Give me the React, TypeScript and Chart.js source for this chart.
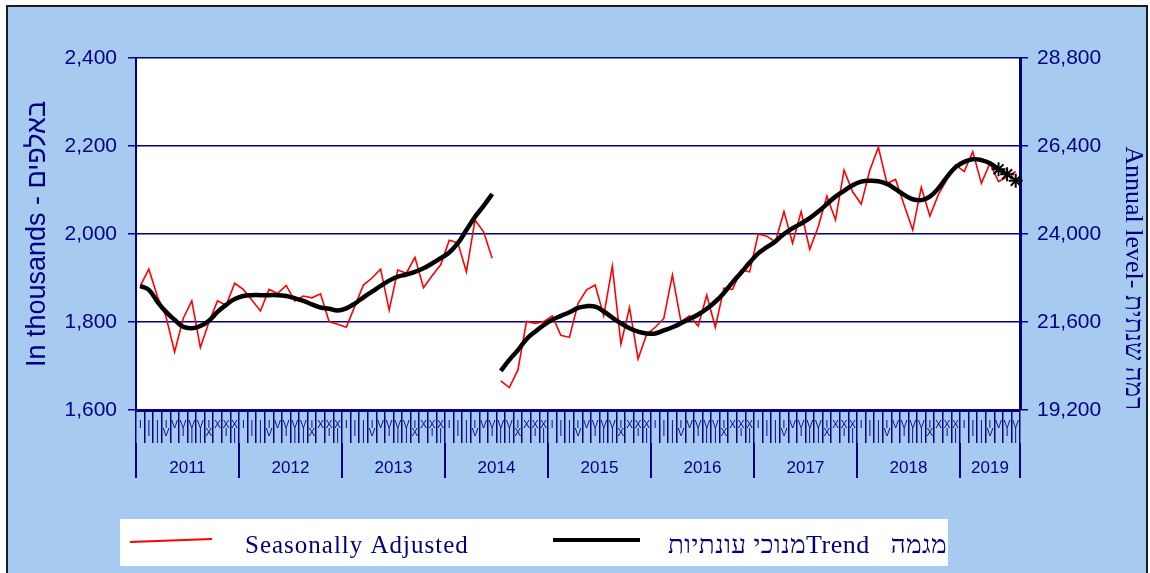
import React, { useEffect, useRef } from 'react';
import { Chart, registerables } from 'chart.js';

Chart.register(...registerables);

const years = ['2011', '2012', '2013', '2014', '2015', '2016', '2017', '2018', '2019'];
const monthsInYear = [12, 12, 12, 12, 12, 12, 12, 12, 7];
const romanMonths = ['I', 'II', 'III', 'IV', 'V', 'VI', 'VII', 'VIII', 'IX', 'X', 'XI', 'XII'];

const leftTickValues = [1600, 1800, 2000, 2200, 2400];
const rightTickValues = [19200, 21600, 24000, 26400, 28800];

// Jan 2011 - Jun 2014 (old series)
const seasonallyAdjustedOld = [
  1882, 1920, 1858, 1812, 1732, 1808, 1848, 1742, 1800, 1848, 1838, 1888,
  1874, 1850, 1825, 1874, 1865, 1883, 1848, 1859, 1855, 1864, 1801, 1795,
  1788, 1836, 1884, 1900, 1920, 1827, 1918, 1911, 1947, 1878, 1905, 1930,
  1986, 1980, 1914, 2032, 2005, 1945,
];
// Jul 2014 - Jul 2019 (new series)
const seasonallyAdjustedNew = [
  1666, 1651, 1691, 1801, 1797, 1801,
  1814, 1770, 1765, 1842, 1873, 1884, 1814, 1927, 1750, 1833, 1716, 1772,
  1788, 1808, 1907, 1801, 1814, 1791, 1861, 1788, 1877, 1874, 1918, 1914,
  2000, 1995, 1982, 2051, 1979, 2051, 1965, 2017, 2086, 2032, 2145, 2096,
  2068, 2145, 2197, 2115, 2124, 2066, 2009, 2106, 2041, 2090, 2124, 2157,
  2142, 2187, 2115, 2161, 2119, 2130, 2142,
];
const trendOld = [
  1882, 1873, 1846, 1823, 1805, 1789, 1786, 1791, 1803, 1823, 1839, 1852,
  1859, 1861, 1861, 1861, 1861, 1859, 1854, 1848, 1840, 1833, 1830, 1826,
  1831, 1842, 1856, 1869, 1882, 1894, 1903, 1908, 1914, 1922, 1933, 1945,
  1958, 1979, 2009, 2039, 2064, 2091,
];
const trendNew = [
  1689, 1714, 1736, 1761, 1778, 1793,
  1805, 1814, 1822, 1832, 1836, 1835, 1824, 1810, 1797, 1786, 1778, 1774,
  1774, 1781, 1788, 1797, 1807, 1817, 1830, 1846, 1866, 1890, 1912, 1935,
  1956, 1970, 1983, 2000, 2013, 2024, 2036, 2051, 2068, 2085, 2098, 2111,
  2119, 2121, 2120, 2114, 2102, 2089, 2079, 2077, 2085, 2104, 2130, 2152,
  2164, 2170, 2168, 2161, 2147, 2136, 2121,
];
const markedTrendCount = 3;

const NAVY = '#000080';
const BG = '#A6CAF0';
const FONT_SANS = "'Liberation Sans', Arial, sans-serif";
const FONT_SERIF = "'Liberation Serif', 'Times New Roman', serif";

const legendLabels = ['Seasonally Adjusted', 'מנוכי עונתיותTrend   מגמה'];
const leftTitle = 'In thousands - באלפים';
const rightTitle = 'Annual level- רמה שנתית';

function buildMonthLabels(): string[][] {
  const out: string[][] = [];
  monthsInYear.forEach((n) => {
    for (let m = 0; m < n; m++) out.push(romanMonths[m].split(''));
  });
  return out;
}

function buildYearTicks() {
  const bounds: number[] = [0];
  const centers: { v: number; label: string }[] = [];
  let acc = 0;
  monthsInYear.forEach((n, i) => {
    centers.push({ v: acc + n / 2, label: years[i] });
    acc += n;
    bounds.push(acc);
  });
  return { bounds, centers, total: acc };
}

const whitePlotPlugin = {
  id: 'whitePlot',
  beforeDraw(chart: any) {
    const { ctx, chartArea } = chart;
    ctx.save();
    ctx.fillStyle = '#ffffff';
    ctx.fillRect(chartArea.left, chartArea.top, chartArea.right - chartArea.left, chartArea.bottom - chartArea.top);
    ctx.restore();
  },
};

const legendPlugin = {
  id: 'customLegend',
  afterDraw(chart: any) {
    const { ctx } = chart;
    ctx.save();
    ctx.fillStyle = '#ffffff';
    ctx.fillRect(112, 512, 828, 47);
    ctx.strokeStyle = '#ff0000';
    ctx.lineWidth = 2;
    ctx.beginPath();
    ctx.moveTo(122, 535);
    ctx.lineTo(204, 532);
    ctx.stroke();
    ctx.strokeStyle = '#000000';
    ctx.lineWidth = 4;
    ctx.beginPath();
    ctx.moveTo(545, 533);
    ctx.lineTo(632, 533);
    ctx.stroke();
    ctx.fillStyle = NAVY;
    ctx.font = `25px ${FONT_SERIF}`;
    ctx.textBaseline = 'middle';
    ctx.textAlign = 'left';
    ctx.direction = 'ltr';
    (ctx as any).letterSpacing = '1px';
    ctx.fillText(legendLabels[0], 237, 539);
    (ctx as any).letterSpacing = '0.5px';
    ctx.font = `26px ${FONT_SERIF}`;
    ctx.fillText(legendLabels[1], 660, 539);
    ctx.restore();
  },
};

export default function App() {
  const ref = useRef<HTMLCanvasElement | null>(null);

  useEffect(() => {
    const canvas = ref.current;
    if (!canvas) return;
    const labels = buildMonthLabels();
    const total = labels.length;
    const oldLen = seasonallyAdjustedOld.length;
    const newLen = total - oldLen;
    const nullsOld = Array(oldLen).fill(null);
    const nullsNew = Array(newLen).fill(null);

    const trendNewLine = trendNew.map((v, i) => (i <= trendNew.length - markedTrendCount ? v : null));
    const trendMarked = [
      ...nullsOld,
      ...trendNew.map((v, i) => (i >= trendNew.length - markedTrendCount ? v : null)),
    ];

    const yt = buildYearTicks();
    const boundarySet = new Set(yt.bounds);
    const yearTickList = [...yt.bounds, ...yt.centers.map((c) => c.v)].sort((a, b) => a - b);
    const yearLabelMap = new Map(yt.centers.map((c) => [c.v, c.label]));

    const chart = new Chart(canvas, {
      type: 'line',
      data: {
        labels,
        datasets: [
          {
            label: 'trendMarked',
            data: trendMarked,
            borderColor: '#000000',
            borderWidth: 1.5,
            pointStyle: 'star',
            pointRadius: 7,
            pointBorderWidth: 2,
            pointBorderColor: '#000000',
            pointBackgroundColor: '#000000',
            xAxisID: 'x',
            yAxisID: 'y',
          },
          {
            label: 'trendOld',
            data: [...trendOld, ...nullsNew],
            borderColor: '#000000',
            borderWidth: 4.5,
            pointRadius: 0,
            tension: 0.4,
            xAxisID: 'x',
            yAxisID: 'y',
          },
          {
            label: 'trendNew',
            data: [...nullsOld, ...trendNewLine],
            borderColor: '#000000',
            borderWidth: 4.5,
            pointRadius: 0,
            tension: 0.4,
            xAxisID: 'x',
            yAxisID: 'y',
          },
          {
            label: 'saOld',
            data: [...seasonallyAdjustedOld, ...nullsNew],
            borderColor: '#ff0000',
            borderWidth: 1.6,
            pointRadius: 0,
            tension: 0,
            xAxisID: 'x',
            yAxisID: 'y',
          },
          {
            label: 'saNew',
            data: [...nullsOld, ...seasonallyAdjustedNew],
            borderColor: '#ff0000',
            borderWidth: 1.6,
            pointRadius: 0,
            tension: 0,
            xAxisID: 'x',
            yAxisID: 'y',
          },
        ],
      },
      options: {
        responsive: false,
        animation: false,
        devicePixelRatio: 1,
        layout: { padding: { top: 51, bottom: 100, left: 0, right: 0 } },
        plugins: {
          legend: { display: false },
          tooltip: { enabled: false },
        },
        scales: {
          x: {
            type: 'category',
            offset: true,
            weight: 0,
            grid: {
              offset: true,
              drawOnChartArea: false,
              color: NAVY,
              lineWidth: 1.5,
              tickLength: 33,
            },
            border: { display: true, color: NAVY, width: 3 },
            ticks: {
              autoSkip: false,
              maxRotation: 0,
              minRotation: 0,
              padding: -22,
              color: NAVY,
              font: { family: FONT_SANS, size: 10, lineHeight: 0.8 },
            },
            afterFit: (s: any) => {
              s.height = 33;
            },
          },
          xYear: {
            type: 'linear',
            position: 'bottom',
            weight: 1,
            min: 0,
            max: yt.total,
            offset: false,
            grid: {
              drawOnChartArea: false,
              tickLength: 35,
              color: (c: any) => (c.tick && boundarySet.has(c.tick.value) ? NAVY : 'rgba(0,0,0,0)'),
              lineWidth: 2,
            },
            border: { display: false },
            afterBuildTicks: (s: any) => {
              s.ticks = yearTickList.map((v) => ({ value: v }));
            },
            ticks: {
              autoSkip: false,
              maxRotation: 0,
              minRotation: 0,
              padding: -20,
              color: NAVY,
              font: { family: FONT_SANS, size: 17 },
              callback: (v: any) => yearLabelMap.get(Number(v)) ?? '',
            },
            afterFit: (s: any) => {
              s.height = 35;
            },
          },
          y: {
            type: 'linear',
            position: 'left',
            min: leftTickValues[0],
            max: leftTickValues[leftTickValues.length - 1],
            afterBuildTicks: (s: any) => {
              s.ticks = leftTickValues.map((v) => ({ value: v }));
            },
            grid: { color: NAVY, lineWidth: 1.5, tickLength: 8 },
            border: { display: true, color: NAVY, width: 2 },
            ticks: {
              color: NAVY,
              padding: 11,
              font: { family: FONT_SANS, size: 21 },
              callback: (v: any) => Number(v).toLocaleString('en-US'),
            },
            title: {
              display: true,
              text: leftTitle,
              color: NAVY,
              font: { family: FONT_SANS, size: 27 },
              padding: { top: 13, bottom: 0 },
            },
            afterFit: (s: any) => {
              s.width = 128;
            },
          },
          y2: {
            type: 'linear',
            position: 'right',
            min: rightTickValues[0],
            max: rightTickValues[rightTickValues.length - 1],
            afterBuildTicks: (s: any) => {
              s.ticks = rightTickValues.map((v) => ({ value: v }));
            },
            grid: { drawOnChartArea: false, color: NAVY, lineWidth: 1.5, tickLength: 8 },
            border: { display: true, color: NAVY, width: 3 },
            ticks: {
              color: NAVY,
              padding: 9,
              font: { family: FONT_SANS, size: 21 },
              callback: (v: any) => Number(v).toLocaleString('en-US'),
            },
            title: {
              display: true,
              text: rightTitle,
              color: NAVY,
              align: 'start',
              font: { family: FONT_SERIF, size: 26 },
              padding: { top: -2, bottom: 0 },
            },
            afterFit: (s: any) => {
              s.width = 126;
            },
          },
        },
      },
      plugins: [whitePlotPlugin, legendPlugin],
    } as any);

    return () => chart.destroy();
  }, []);

  return (
    <div
      style={{
        position: 'fixed',
        left: 6,
        top: 5,
        width: 1142,
        height: 575,
        border: '2px solid #1c1c1c',
        boxSizing: 'border-box',
        background: BG,
      }}
    >
      <canvas ref={ref} width={1138} height={571} style={{ display: 'block', width: 1138, height: 571 }} />
    </div>
  );
}
